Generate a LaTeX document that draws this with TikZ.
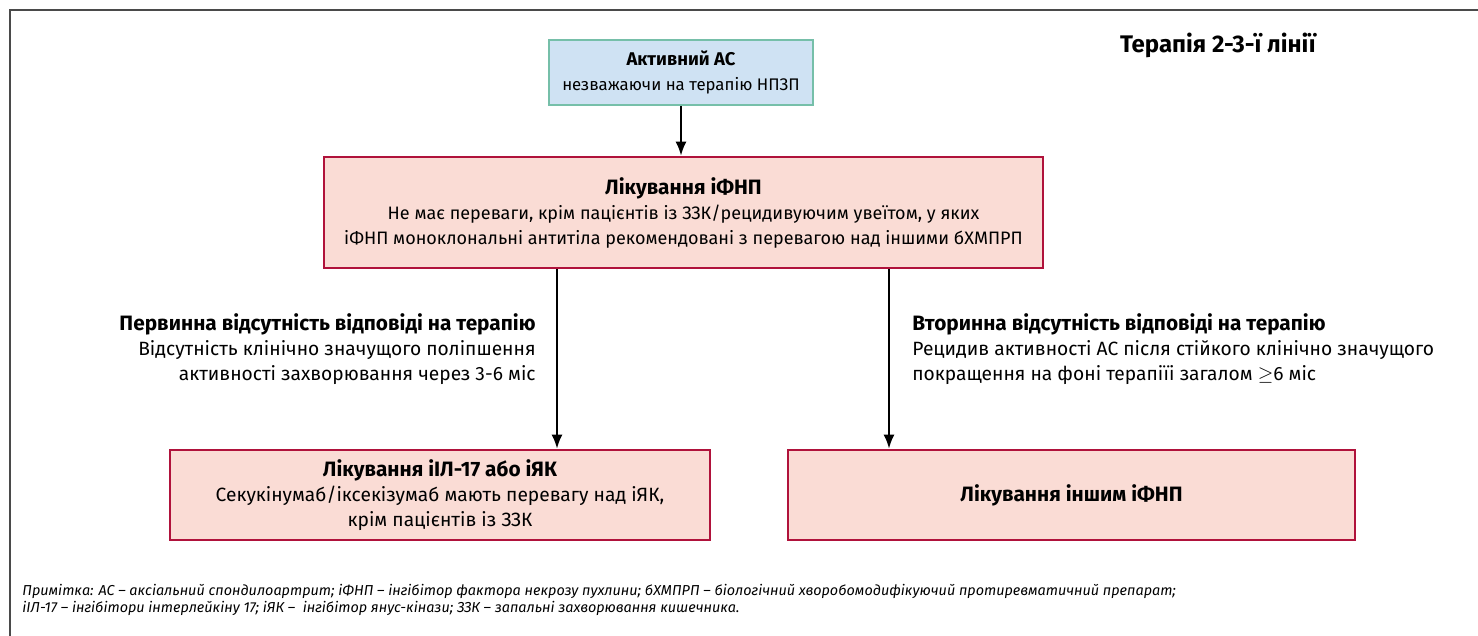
\documentclass[tikz,border=0pt]{standalone}
\usepackage{fontspec}
\setmainfont{Fira Sans}
\usetikzlibrary{positioning, arrows.meta}

\definecolor{startfill}{HTML}{CFE2F3}
\definecolor{startline}{HTML}{76BFA9}
\definecolor{stepfill}{HTML}{FADCD5}
\definecolor{stepline}{HTML}{B0123B}
\definecolor{framegray}{HTML}{4A4A4A}

\newcommand{\headfont}{\fontsize{10.4}{12.5}\selectfont\bfseries}

\begin{document}
\begin{tikzpicture}[x=0.5pt, y=-0.5pt, font=\fontsize{9.6}{12.5}\selectfont]
        % Setup the style for the boxes and arrows
        \tikzset{start box/.style={draw=startline,
                                   fill=startfill,
                                   line width=1.3pt,
                                   inner sep=0pt,
                                   align=center},
                 step box/.style={draw=stepline,
                                  fill=stepfill,
                                  line width=1.3pt,
                                  inner sep=0pt,
                                  align=center},
                 flow arrow/.style={-{Latex[length=7pt, width=5.5pt]},
                                    line width=1pt},
                 side label/.style={inner sep=0pt}}

        \useasboundingbox (0,0) rectangle (1478,636);

        % Draw the frame
        \draw[framegray, line width=1pt] (1478,10) -- (10,10) -- (10,636);

        % Draw the boxes
        \node[start box, minimum width=132pt, minimum height=32.5pt,
              font=\fontsize{8.4}{12.5}\selectfont] at (681, 72.5) (active)
            {{\fontsize{9.2}{12.5}\selectfont\bfseries Активний АС}\\незважаючи на терапію НПЗП};
        \node[step box, minimum width=359.5pt, minimum height=55.5pt,
              font=\fontsize{9}{12.5}\selectfont] at (683.5, 212.5) (tnfi)
            {{\headfont Лікування іФНП}\\Не має переваги, крім пацієнтів із ЗЗК/рецидивуючим увеїтом, у яких\\іФНП моноклональні антитіла рекомендовані з перевагою над іншими бХМПРП};
        \node[step box, minimum width=270pt, minimum height=45pt] at (440, 495) (il17)
            {{\headfont Лікування іІЛ-17 або іЯК}\\Секукінумаб/іксекізумаб мають перевагу над іЯК,\\крім пацієнтів із ЗЗК};
        \node[step box, minimum width=283.5pt, minimum height=45pt] at (1071.5, 495) (other)
            {{\headfont Лікування іншим іФНП}};

        % Draw the texts
        \node[anchor=west, font=\fontsize{12}{14}\selectfont\bfseries] at (1113, 45) (line)
            {Терапія 2-3-ї лінії};
        \node[side label, anchor=north east, align=right] at (536, 313) (primary)
            {{\headfont Первинна відсутність відповіді на терапію}\\Відсутність клінічно значущого поліпшення\\активності захворювання через 3-6 міс};
        \node[side label, anchor=north west, align=left] at (912, 313) (secondary)
            {{\headfont Вторинна відсутність відповіді на терапію}\\Рецидив активності АС після стійкого клінічно значущого\\покращення на фоні терапіїі загалом $\geq$6 міс};
        \node[side label, anchor=north west, align=left,
              font=\fontsize{7.2}{8.6}\selectfont\itshape] at (22, 584) (note)
            {Примітка: АС – аксіальний спондилоартрит; іФНП – інгібітор фактора некрозу пухлини; бХМПРП – біологічний хворобомодифікуючий протиревматичний препарат;\\іІЛ-17 – інгібітори інтерлейкіну 17; іЯК –~ інгібітор янус-кінази; ЗЗК – запальні захворювання кишечника.};

        % Connect the boxes with arrows
        \coordinate (leftx) at (557, 0);
        \coordinate (rightx) at (889, 0);
        \draw[flow arrow] (active.south) -- (active.south |- tnfi.north);
        \draw[flow arrow] (tnfi.south -| leftx) -- (il17.north -| leftx);
        \draw[flow arrow] (tnfi.south -| rightx) -- (other.north -| rightx);
\end{tikzpicture}
\end{document}
